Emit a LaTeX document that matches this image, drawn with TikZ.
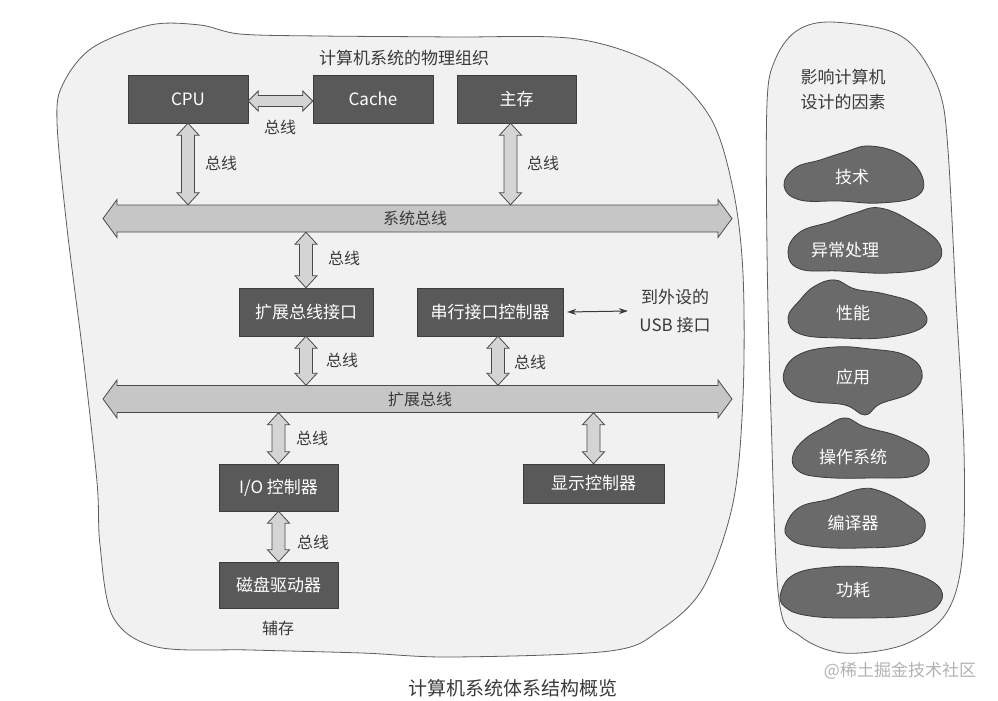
\documentclass[tikz,border=0pt]{standalone}
\usepackage{fontspec}
\setmainfont{Noto Sans CJK SC}
\usetikzlibrary{calc,arrows.meta}
\definecolor{boxfill}{HTML}{595959}
\definecolor{boxedge}{HTML}{3C3C3C}
\definecolor{busfill}{HTML}{C6C6C6}
\definecolor{linkfill}{HTML}{D4D4D4}
\definecolor{edge}{HTML}{4A4A4A}
\definecolor{blobfill}{HTML}{F1F1F1}
\definecolor{blobedge}{HTML}{5E5E5E}
\definecolor{cloudfill}{HTML}{6A6A6A}
\definecolor{txt}{HTML}{3A3A3A}
\begin{document}
\begin{tikzpicture}[x=1pt,y=-1pt,line join=round,line cap=round,>={Stealth[length=9pt,width=6pt]},
 font=\fontsize{16}{19}\selectfont,
 fatsize/.code n args={3}{\def\fatlen{#1}\def\fatshaft{#2}\def\fathead{#3}},
 fat/.style={to path={
   ($(\tikztostart)!\fatlen!(\tikztotarget)$) coordinate (fa)
   ($(\tikztotarget)!\fatlen!(\tikztostart)$) coordinate (fb)
   (\tikztostart) -- ($(fa)!\fathead!90:(\tikztotarget)$) -- ($(fa)!\fatshaft!90:(\tikztotarget)$)
   -- ($(fb)!\fatshaft!-90:(\tikztostart)$) -- ($(fb)!\fathead!-90:(\tikztostart)$)
   -- (\tikztotarget) -- ($(fb)!\fathead!90:(\tikztostart)$) -- ($(fb)!\fatshaft!90:(\tikztostart)$)
   -- ($(fa)!\fatshaft!-90:(\tikztotarget)$) -- ($(fa)!\fathead!-90:(\tikztotarget)$) -- cycle}},
 link/.style={fat,fatsize={12pt}{6.5pt}{11pt},fill=linkfill,draw=edge,line width=0.8pt,line join=miter},
 bus/.style={fat,fatsize={14pt}{13.5pt}{19pt},fill=busfill,draw=edge,line width=0.8pt,line join=miter},
 unit/.style={draw=boxedge,fill=boxfill,text=white,inner sep=0pt,minimum height=48pt,font=\fontsize{17}{20}\selectfont},
 buslabel/.style={inner sep=0pt,minimum height=27pt,text=txt},
 lbl/.style={text=txt,inner sep=1pt},
 blob/.style={draw=blobedge,fill=blobfill,line width=0.8pt},
 cloudblob/.style={draw=boxedge,fill=cloudfill,line width=0.8pt},
 factor/.style={text=white,font=\fontsize{17}{20}\selectfont}]
\useasboundingbox (0,0) rectangle (998,701);
\fill[white] (0,0) rectangle (998,701);
% physical organisation
\draw[blob] plot[smooth cycle,tension=0.55] coordinates {(57,122) (63,84) (92,48) (150,25) (200,25)
 (240,34) (320,36) (450,37) (577,39) (660,67) (710,117) (733,189) (743,274) (743,397) (733,503)
 (703,588) (660,630) (610,651) (452,657) (362,653) (251,650) (157,647) (113,617) (100,545)
 (97,482) (83,355) (67,228)};
% design factors
\draw[blob] plot[smooth cycle,tension=0.55] coordinates {(767,103) (775,60) (795,32) (827,22) (887,30)
 (917,50) (940,93) (948,150) (956,300) (964,450) (962,560) (945,615) (903,645) (843,653) (800,636)
 (779,600) (771,415) (767,250)};
\node[text=txt,font=\fontsize{17}{20}\selectfont] (title) at (404,58) {计算机系统的物理组织};
\node[unit,minimum width=120pt] (cpu) at (188,99) {CPU};
\node[unit,minimum width=120pt] (cache) at (373,99) {Cache};
\node[unit,minimum width=119pt] (mem) at (516.5,99) {主存};
\coordinate (sb-w) at (103,218.5);
\coordinate (sb-e) at (732,218.5);
\draw[bus] (sb-w) to (sb-e);
\node[buslabel] (sysbus) at (415,218.5) {系统总线};
\node[unit,minimum width=134pt] (ebi) at (306,312) {扩展总线接口};
\node[unit,minimum width=146pt] (serial) at (490,312) {串行接口控制器};
\node[text=txt,align=center,font=\fontsize{17}{28}\selectfont] (usb) at (675,311) {到外设的\\USB 接口};
\coordinate (eb-w) at (103,399);
\coordinate (eb-e) at (732,399);
\draw[bus] (eb-w) to (eb-e);
\node[buslabel] (extbus) at (420,399) {扩展总线};
\node[unit,minimum width=119pt,minimum height=47pt] (io) at (278.5,487.5) {I/O 控制器};
\node[unit,minimum width=141pt,minimum height=39pt] (disp) at (593.5,483.5) {显示控制器};
\node[unit,minimum width=119pt,minimum height=46pt] (disk) at (278.5,585) {磁盘驱动器};
\node[lbl] (aux) at (278,628) {辅存};
% buses
\draw[link,fatsize={10pt}{5.5pt}{10pt}] ([yshift=-2pt]cpu.east) to ([yshift=-2pt]cache.west);
\draw[link] (cpu.south) to (cpu.south |- sysbus.north);
\draw[link] ([xshift=-6pt]mem.south) to ([xshift=-6pt]mem.south |- sysbus.north);
\draw[link] (ebi.north |- sysbus.south) to (ebi.north);
\draw[link] (ebi.south) to (ebi.south |- extbus.north);
\draw[link] ([xshift=8pt]serial.south) to ([xshift=8pt]serial.south |- extbus.north);
\draw[link] (io.north |- extbus.south) to (io.north);
\draw[link] (disp.north |- extbus.south) to (disp.north);
\draw[link] (io.south) to (disk.north);
\draw[<->,draw=txt,fill=txt,line width=1pt] ([xshift=4pt]serial.east) -- ([xshift=-8pt]usb.west);
\node[lbl] (b1) at (280,127) {总线};
\node[lbl] (b2) at (221,163) {总线};
\node[lbl] (b3) at (543,163) {总线};
\node[lbl] (b4) at (344,258) {总线};
\node[lbl] (b5) at (342,360) {总线};
\node[lbl] (b6) at (530,362) {总线};
\node[lbl] (b7) at (312,438) {总线};
\node[lbl] (b8) at (313,542) {总线};
\node[text=txt,font=\fontsize{19}{22}\selectfont] (caption) at (513,688) {计算机系统体系结构概览};
% factors
\node[text=txt,align=left,anchor=west,font=\fontsize{17}{25}\selectfont] (ftitle) at (797,89.5) {影响计算机\\设计的因素};
\draw[cloudblob] plot[smooth cycle,tension=0.7] coordinates {(784,186) (795,168) (820,160) (845,152) (870,146)
 (902,155) (922,176) (917,196) (880,203) (840,201) (800,200)};
\draw[cloudblob] plot[smooth cycle,tension=0.7] coordinates {(788,252) (800,232) (830,222) (855,213) (880,208)
 (912,222) (940,245) (932,266) (890,273) (840,271) (800,269)};
\draw[cloudblob] plot[smooth cycle,tension=0.7] coordinates {(788,318) (800,300) (815,286) (835,280) (855,289)
 (885,294) (917,305) (925,325) (890,337) (840,338) (800,334)};
\draw[cloudblob] plot[smooth cycle,tension=0.7] coordinates {(784,372) (800,354) (835,347) (870,349) (905,355)
 (922,372) (912,392) (880,404) (865,415) (845,405) (810,401) (789,390)};
\draw[cloudblob] plot[smooth cycle,tension=0.7] coordinates {(793,455) (805,439) (825,427) (845,418) (865,427)
 (900,437) (928,455) (917,475) (870,478) (820,477) (797,470)};
\draw[cloudblob] plot[smooth cycle,tension=0.7] coordinates {(786,525) (800,507) (830,499) (860,489) (880,491)
 (906,504) (925,522) (912,543) (860,548) (810,546) (789,538)};
\draw[cloudblob] plot[smooth cycle,tension=0.7] coordinates {(781,592) (795,574) (830,567) (870,567) (905,571)
 (937,585) (940,603) (916,615) (860,618) (810,616) (785,607)};
\node[factor] (tech) at (852,177) {技术};
\node[factor] (exc) at (845,250) {异常处理};
\node[factor] (perf) at (853,313) {性能};
\node[factor] (app) at (853,377) {应用};
\node[factor] (os) at (853,457) {操作系统};
\node[factor] (comp) at (853,523) {编译器};
\node[factor] (power) at (853,590) {功耗};
\node[text=black!30,font=\fontsize{17}{20}\selectfont] (mark) at (900,671) {@稀土掘金技术社区};
\end{tikzpicture}
\end{document}
